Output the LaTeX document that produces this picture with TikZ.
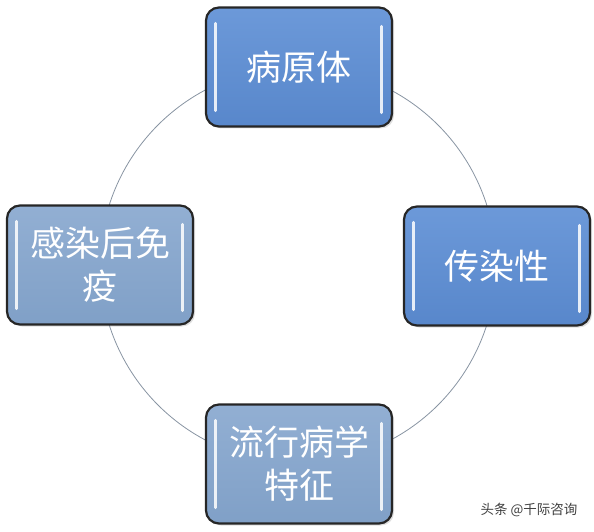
\documentclass[tikz,border=0pt]{standalone}
\usepackage{fontspec}
\setmainfont{Noto Sans CJK SC}
\usetikzlibrary{calc,shadows}
\definecolor{deepblue}{HTML}{5887CB}
\definecolor{deepbluetop}{HTML}{6C99D9}
\definecolor{paleblue}{HTML}{80A0C7}
\definecolor{palebluetop}{HTML}{92AFD3}
\definecolor{ringgray}{HTML}{8894A2}
\tikzstyle{topic}=[rectangle,rounded corners=13pt,draw=black!85,line width=2.2pt,minimum width=186pt,minimum height=119pt,text=white,font=\fontsize{35}{43}\selectfont,align=center,drop shadow={shadow xshift=2pt,shadow yshift=-2pt,opacity=0.25}]
\tikzstyle{deep}=[topic,top color=deepbluetop,bottom color=deepblue]
\tikzstyle{pale}=[topic,top color=palebluetop,bottom color=paleblue]
\tikzstyle{ring}=[draw=ringgray,line width=0.8pt]
\tikzstyle{shine}=[draw=white,line width=3pt,line cap=round,opacity=0.85]

\begin{document}
\begin{tikzpicture}[x=1pt,y=1pt]
    \useasboundingbox (0,0) rectangle (594,-532);
    \coordinate (hub) at (298,-265);
    \draw[ring] (hub) circle[radius=198pt];
        \node[deep] (pathogen) at (299,-67) {病原体};
        \node[deep] (spread) at (497,-266) {传染性};
        \node[pale] (epidem) at (299,-464) {流行病学\\特征};
        \node[pale] (immunity) at (100,-265) {感染后免\\疫};
        \foreach \n in {pathogen,spread,epidem,immunity} {
            \draw[shine] ($(\n.north west)+(11,-17)$) -- ($(\n.south west)+(11,17)$);
            \draw[shine] ($(\n.north east)+(-12,-20)$) -- ($(\n.south east)+(-12,15)$);
        }
        \node[font=\fontsize{13.5}{14}\selectfont,text=black!75,anchor=east] (credit) at (581,-510) {头条 @千际咨询};
    \end{tikzpicture}
\end{document}
